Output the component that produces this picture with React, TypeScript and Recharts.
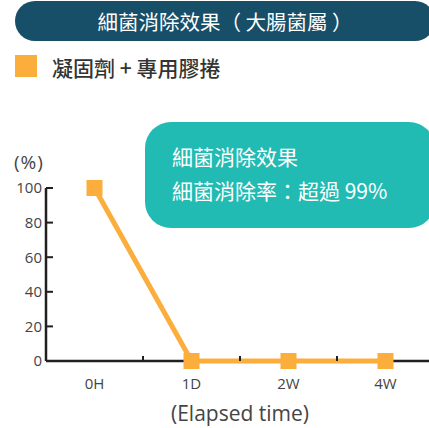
import React from "react";
import { LineChart, Line, XAxis, YAxis } from "recharts";

const categories = ["0H", "1D", "2W", "4W"];
const removalRate = [100, 0, 0, 0];
const yTicks = [0, 20, 40, 60, 80, 100];

const title = "細菌消除效果（ 大腸菌屬 ）";
const seriesName = "凝固劑 + 專用膠捲";
const calloutLines = ["細菌消除效果", "細菌消除率：超過 99%"];

const data = categories.map((c, i) => ({ time: c, value: removalRate[i] }));

const CJK = '"Noto Sans CJK TC", "Noto Sans", sans-serif';
const LATIN = '"Open Sans", "Noto Sans", sans-serif';
const ORANGE = "#FBAE3C";
const AXIS = "#231F20";
const LABEL = "#444";

const CHART_W = 440;
const CHART_H = 428;
const MARGIN = { top: 188, right: 6, left: 6, bottom: 0 };
const Y_W = 40;
const X_H = 67;
const PLOT_W = CHART_W - MARGIN.left - MARGIN.right - Y_W;
const X_GAP = 17;

const SquareDot = (props: any) => {
    const { cx, cy } = props;
    if (cx == null || cy == null) return null;
    return <rect x={cx - 8} y={cy - 8} width={16} height={16} fill={ORANGE} />;
};

// label at the band centre, small mark at the band's left edge
const XTick = (props: any) => {
    const { x, y, payload, index, visibleTicksCount } = props;
    const band = PLOT_W / (visibleTicksCount || categories.length);
    const axisY = y - X_GAP;
    return (
        <g>
            {index > 0 && (
                <line x1={x - band / 2} x2={x - band / 2} y1={axisY} y2={axisY - 5} stroke={AXIS} strokeWidth={2} />
            )}
            <text x={x} y={y} dy="0.71em" textAnchor="middle" fill={LABEL} fontSize={15} fontFamily={LATIN}>
                {payload.value}
            </text>
        </g>
    );
};

export default function App() {
    return (
        <div style={{ position: "absolute", left: 0, top: 0, width: 429, height: 428, overflow: "hidden", background: "#fff" }}>
            <div
                style={{
                    position: "absolute", left: 15, top: 1, width: 420, height: 40, borderRadius: 20,
                    background: "#174E68", color: "#fff", fontFamily: CJK, fontSize: 20.5,
                    display: "flex", alignItems: "center", justifyContent: "center",
                }}
            >
                {title}
            </div>

            <div style={{ position: "absolute", left: 15, top: 55, width: 22, height: 22, background: ORANGE }} />
            <div style={{ position: "absolute", left: 52, top: 52, fontFamily: CJK, fontSize: 21, fontWeight: 500, color: "#333", lineHeight: "30px" }}>
                {seriesName}
            </div>

            <div style={{ position: "absolute", left: 14, top: 148, fontFamily: LATIN, fontSize: 19, color: LABEL, lineHeight: "28px", letterSpacing: 1 }}>
                (%)
            </div>

            <div style={{ position: "absolute", left: 0, top: 0 }}>
                <LineChart width={CHART_W} height={CHART_H} data={data} margin={MARGIN}>
                    <XAxis
                        dataKey="time"
                        scale="band"
                        height={X_H}
                        axisLine={{ stroke: AXIS, strokeWidth: 2.5 }}
                        tickLine={false}
                        tickSize={0}
                        tickMargin={X_GAP}
                        tick={<XTick />}
                        interval={0}
                        label={{ value: "(Elapsed time)", position: "insideBottom", offset: 7, fill: LABEL, fontSize: 21, fontFamily: LATIN }}
                    />
                    <YAxis
                        width={Y_W}
                        domain={[0, 100]}
                        ticks={yTicks}
                        interval={0}
                        axisLine={{ stroke: AXIS, strokeWidth: 2.5 }}
                        tickLine={{ stroke: AXIS, strokeWidth: 2 }}
                        tickSize={-7}
                        tickMargin={11}
                        tick={{ fill: LABEL, fontSize: 15, fontFamily: LATIN }}
                    />
                    <Line
                        dataKey="value"
                        stroke={ORANGE}
                        strokeWidth={5}
                        dot={<SquareDot />}
                        activeDot={false}
                        zIndex={1000}
                        isAnimationActive={false}
                    />
                </LineChart>
            </div>

            <div
                style={{
                    position: "absolute", left: 145, top: 122, width: 290, height: 106, borderRadius: 26,
                    background: "#22BBB3", color: "#fff", fontFamily: CJK, fontSize: 21,
                    paddingLeft: 27, paddingTop: 17, boxSizing: "border-box", lineHeight: "34px",
                }}
            >
                {calloutLines.map((t) => (
                    <div key={t}>{t}</div>
                ))}
            </div>
        </div>
    );
}
